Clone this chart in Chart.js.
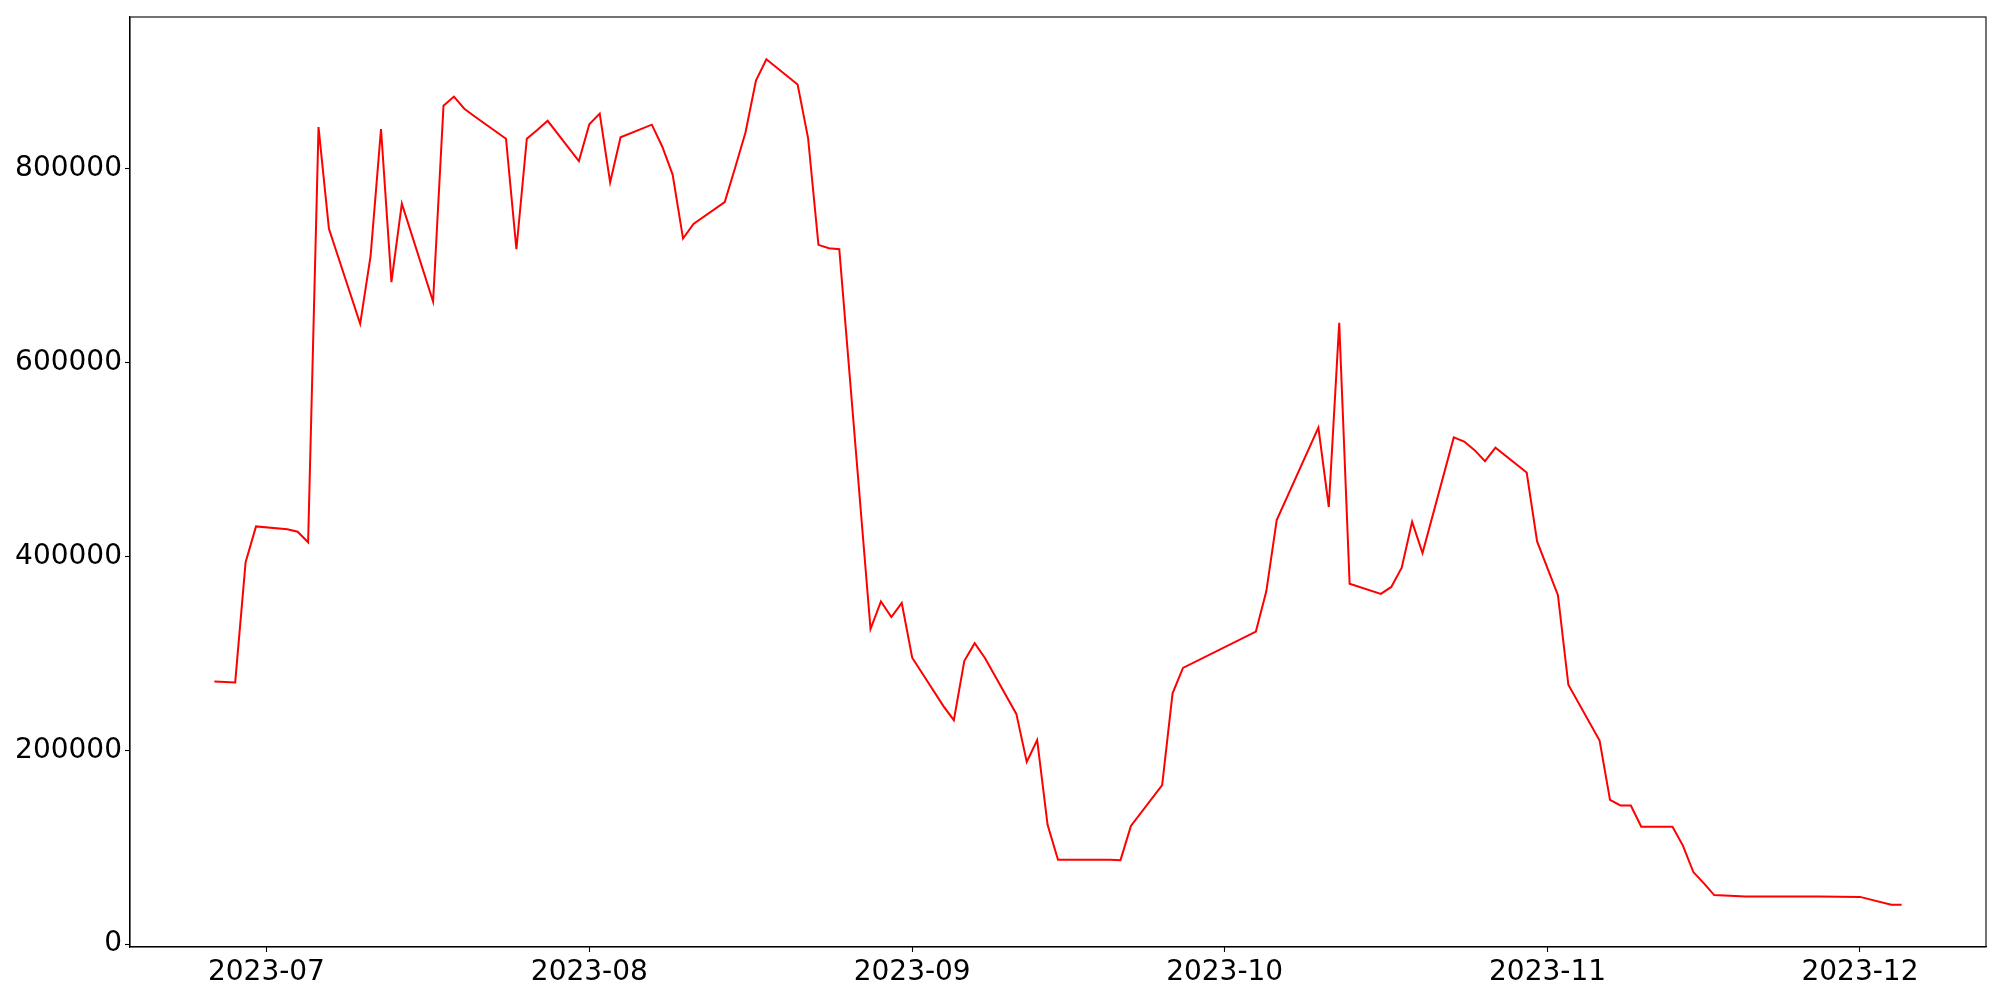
<!DOCTYPE html>
<html>
<head>
<meta charset="utf-8">
<script src="https://cdn.jsdelivr.net/npm/chart.js@4.4.1/dist/chart.umd.min.js"></script>
<style>
  body { margin: 0; background: #fff; }
  #wrap { width: 2000px; height: 1000px; }
</style>
</head>
<body>
<div id="wrap"><canvas id="chart" width="2000" height="1000"></canvas></div>
<script>
// dates and values
const dates = [
  "2023-06-26", "2023-06-28", "2023-06-29", "2023-06-30",
  "2023-07-03", "2023-07-04", "2023-07-05", "2023-07-06", "2023-07-07",
  "2023-07-10", "2023-07-11", "2023-07-12", "2023-07-13", "2023-07-14",
  "2023-07-17", "2023-07-18", "2023-07-19", "2023-07-20", "2023-07-21",
  "2023-07-24", "2023-07-25", "2023-07-26", "2023-07-27", "2023-07-28",
  "2023-07-31", "2023-08-01", "2023-08-02", "2023-08-03", "2023-08-04",
  "2023-08-07", "2023-08-08", "2023-08-09", "2023-08-10", "2023-08-11",
  "2023-08-14", "2023-08-15", "2023-08-16", "2023-08-17", "2023-08-18",
  "2023-08-21", "2023-08-22", "2023-08-23", "2023-08-24", "2023-08-25",
  "2023-08-28", "2023-08-29", "2023-08-30", "2023-08-31", "2023-09-01",
  "2023-09-04", "2023-09-05", "2023-09-06", "2023-09-07", "2023-09-08",
  "2023-09-11", "2023-09-12", "2023-09-13", "2023-09-14", "2023-09-15",
  "2023-09-18", "2023-09-19", "2023-09-20", "2023-09-21", "2023-09-22",
  "2023-09-25", "2023-09-26", "2023-09-27",
  "2023-10-04", "2023-10-05", "2023-10-06",
  "2023-10-10", "2023-10-11", "2023-10-12", "2023-10-13",
  "2023-10-16", "2023-10-17", "2023-10-18", "2023-10-19", "2023-10-20",
  "2023-10-23", "2023-10-24", "2023-10-25", "2023-10-26", "2023-10-27",
  "2023-10-30", "2023-10-31", "2023-11-02", "2023-11-03",
  "2023-11-06", "2023-11-07", "2023-11-08", "2023-11-09", "2023-11-10",
  "2023-11-13", "2023-11-14", "2023-11-15", "2023-11-16", "2023-11-17",
  "2023-11-20", "2023-11-27", "2023-12-01", "2023-12-04", "2023-12-05"
];
const values = [
  271000, 270000, 394000, 431000,
  428000, 425500, 414600, 843000, 738000,
  640000, 710000, 841000, 683000, 764000,
  663000, 865000, 874500, 862000, 854000,
  831000, 717000, 831000, 840000, 849500,
  808000, 846000, 857000, 786000, 832500,
  845500, 823000, 794000, 728000, 743000,
  765700, 801000, 837700, 891000, 913000,
  887000, 832000, 721500, 718000, 717000,
  325000, 353500, 337500, 352000, 295500,
  245600, 231000, 292000, 310500, 295000,
  237500, 188000, 210500, 123000, 87000,
  87000, 87000, 87000, 86600, 122000,
  164000, 258700, 285000,
  322500, 364000, 437500,
  533000, 451000, 641000, 371800,
  361400, 368500, 388300, 435700, 403400,
  522800, 518500, 509700, 498300, 512200,
  486600, 415500, 360000, 267700,
  210000, 148700, 143000, 143000, 121100,
  121100, 101600, 74300, 62900, 50600,
  49100, 49000, 48700, 40600, 40600
];
const monthTicks = ["2023-07-01", "2023-08-01", "2023-09-01", "2023-10-01", "2023-11-01", "2023-12-01"];
const yTicks = [0, 200000, 400000, 600000, 800000];

const points = dates.map((d, i) => ({ x: Date.parse(d), y: values[i] }));

// matplotlib-like 5% margins
const xs = points.map(p => p.x);
const xMin = Math.min(...xs), xMax = Math.max(...xs);
const xPad = (xMax - xMin) * 0.05;
const yMin = Math.min(...values), yMax = Math.max(...values);
const yPad = (yMax - yMin) * 0.05;

const font = { family: "DejaVu Sans", size: 28, lineHeight: 1 };

const frame = {
  id: "frame",
  afterDraw(chart) {
    const a = chart.chartArea;
    const ctx = chart.ctx;
    ctx.save();
    ctx.strokeStyle = "#000";
    ctx.lineWidth = 1.1;
    ctx.strokeRect(a.left, a.top, a.right - a.left, a.bottom - a.top);
    ctx.restore();
  }
};

new Chart(document.getElementById("chart"), {
  type: "line",
  data: {
    datasets: [{
      data: points,
      borderColor: "#ff0000",
      borderWidth: 2,
      pointRadius: 0,
      tension: 0,
      fill: false
    }]
  },
  options: {
    responsive: false,
    animation: false,
    layout: { padding: { left: 0, right: 14, top: 15, bottom: 0 } },
    plugins: { legend: { display: false }, tooltip: { enabled: false } },
    scales: {
      x: {
        type: "linear",
        min: xMin - xPad,
        max: xMax + xPad,
        afterBuildTicks: s => { s.ticks = monthTicks.map(m => ({ value: Date.parse(m) })); },
        afterFit: s => { s.height = 53; },
        grid: { drawOnChartArea: false, drawTicks: true, tickLength: 5, tickWidth: 1.1, tickColor: "#000" },
        border: { display: true, color: "#000", width: 1.1 },
        ticks: {
          color: "#000", font: font, padding: 7, maxRotation: 0, autoSkip: false,
          callback: v => new Date(v).toISOString().slice(0, 7)
        }
      },
      y: {
        min: yMin - yPad,
        max: yMax + yPad,
        afterBuildTicks: s => { s.ticks = yTicks.map(v => ({ value: v })); },
        afterFit: s => { s.width = 130; },
        grid: { drawOnChartArea: false, drawTicks: true, tickLength: 5, tickWidth: 1.1, tickColor: "#000" },
        border: { display: true, color: "#000", width: 1.1 },
        ticks: { color: "#000", font: font, padding: 3, callback: v => String(v) }
      }
    }
  },
  plugins: [frame]
});
</script>
</body>
</html>
